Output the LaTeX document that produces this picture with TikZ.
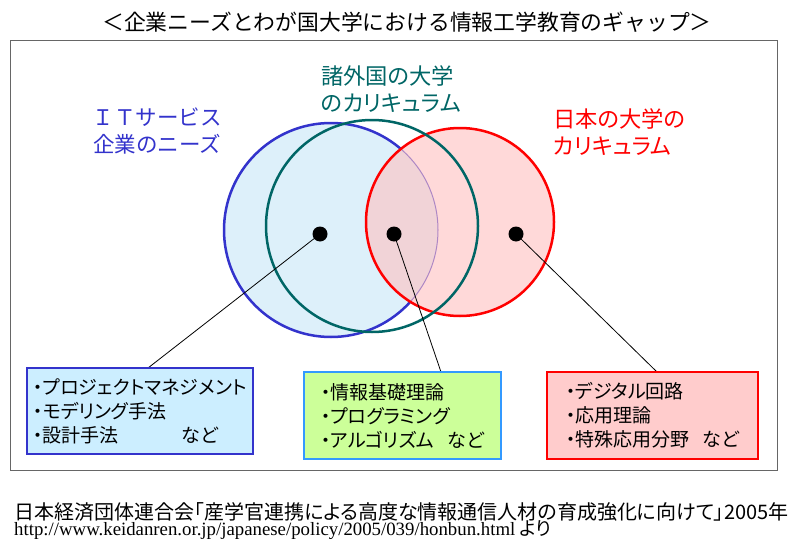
\documentclass[tikz,border=0pt]{standalone}
\usepackage{fontspec}
\setmainfont{Liberation Serif}
\newfontfamily\jp{Noto Sans CJK JP}[RawFeature=+palt]
\newfontfamily\jpm{Noto Sans CJK JP}
\definecolor{itblue}{HTML}{3333CC}
\definecolor{itfill}{HTML}{DDF0FA}
\definecolor{gaiteal}{HTML}{006666}
\definecolor{jpred}{HTML}{FF0000}
\definecolor{jpfill}{HTML}{FFC0C0}
\definecolor{boxblue}{HTML}{CCEEFF}
\definecolor{boxgreen}{HTML}{CCFF99}
\definecolor{boxedge}{HTML}{3399FF}
\definecolor{boxpink}{HTML}{FFCCCC}
\tikzset{
  venn/.style={line width=2.5pt},
  tag/.style={inner sep=0pt, font=\jp\fontsize{22.3}{26.5}\selectfont},
  itembox/.style={draw, line width=1.2pt, inner sep=0pt, align=left,
    font=\jp\fontsize{19}{24}\selectfont},
  hub/.style={circle, fill=black, minimum size=15pt, inner sep=0pt},
  lead/.style={line width=0.8pt},
}
\begin{document}
\begin{tikzpicture}[x=1pt,y=-1pt]
\useasboundingbox[fill=white] (0,0) rectangle (800,551);

% title and frame
\node[inner sep=0pt, font=\jpm\fontsize{21.8}{24}\selectfont] (title) at (407,22)
  {＜企業ニーズとわが国大学における情報工学教育のギャップ＞};
\draw[gray!80!black, line width=1pt] (10.5,40.5) rectangle (777.5,470.5);

% circles
\fill[itfill] (331,230) circle (107);
\draw[itblue, line width=1pt] (331,230) circle (107);
\fill[jpfill, fill opacity=0.6] (460,222) circle (94);
\begin{scope}[even odd rule]
  \clip (0,0) rectangle (800,551) (460,222) circle (94);
  \draw[venn, itblue] (331,230) circle (107);
\end{scope}
\draw[venn, jpred] (460,222) circle (94);
\draw[venn, gaiteal] (372,226) circle (106);

% labels
\node[tag, font=\jpm\fontsize{21.5}{27}\selectfont, align=center, text=itblue] (itlabel) at (157,131.5)
  {ＩＴサービス\\企業のニーズ};
\node[tag, align=left, anchor=west, text=gaiteal] (gailabel) at (321,89)
  {諸外国の大学\\のカリキュラム};
\node[tag, align=left, anchor=west, text=jpred] (jplabel) at (553,132)
  {日本の大学の\\カリキュラム};

% dots
\node[hub] (d1) at (320,234) {};
\node[hub] (d2) at (394,234) {};
\node[hub] (d3) at (516,234) {};

\coordinate (e1) at (148,368);
\coordinate (e2) at (441,372);
\coordinate (e3) at (657,372);
\draw[lead] (d1.center) -- (e1);
\draw[lead] (d2.center) -- (e2);
\draw[lead] (d3.center) -- (e3);

% boxes
\node[itembox, draw=itblue, fill=boxblue, minimum width=226pt, minimum height=86pt] (b1) at (140,411)
  {・プロジェクトマネジメント\\・モデリング手法\\・設計手法\hspace*{3.3em}など};
\node[itembox, draw=boxedge, fill=boxgreen, minimum width=197pt, minimum height=87pt] (b2) at (402.5,415.5)
  {・情報基礎理論\\・プログラミング\\・アルゴリズム\hspace*{0.7em}など};
\node[itembox, draw=jpred, fill=boxpink, minimum width=211pt, minimum height=87pt] (b3) at (652.5,415.5)
  {・デジタル回路\\・応用理論\\・特殊応用分野\hspace*{0.7em}など};

% source
\node[inner sep=0pt, anchor=west, align=left] (src) at (14,521)
  {{\jp\fontsize{20}{19}\selectfont 日本経済団体連合会「産学官連携による高度な情報通信人材の育成強化に向けて」2005年}\\[-1pt]
   {\fontsize{18.8}{19}\selectfont http://www.keidanren.or.jp/japanese/policy/2005/039/honbun.html {\jp より}}};
\end{tikzpicture}
\end{document}
